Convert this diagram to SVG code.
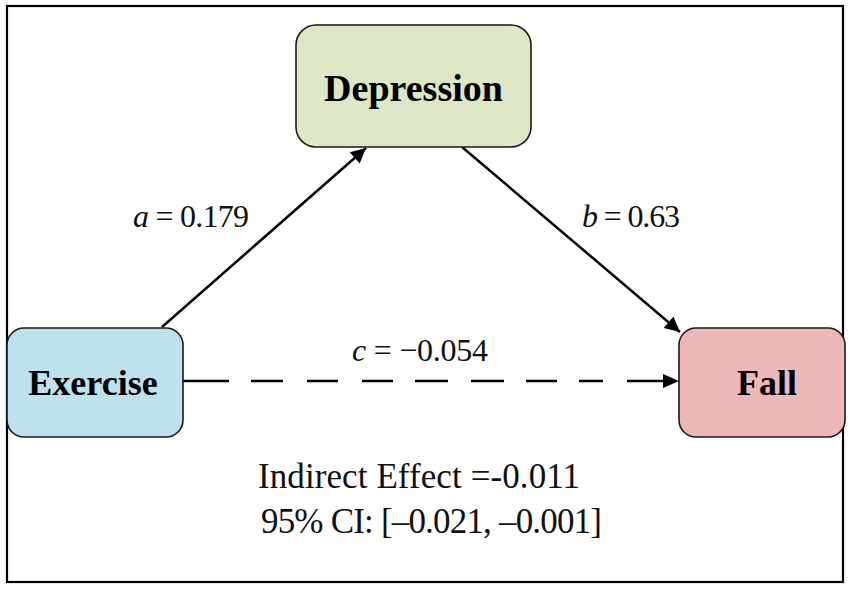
<svg xmlns="http://www.w3.org/2000/svg" width="851" height="589" viewBox="0 0 851 589">
<style>
.box{stroke:#1a1a1a;stroke-width:1.6}
.nl{font-family:"Liberation Serif","Times New Roman",serif;font-weight:bold;fill:#000;text-anchor:middle}
.lbl{font-family:"Liberation Serif","Times New Roman",serif;font-size:32px;fill:#111}
.note{font-family:"Liberation Serif","Times New Roman",serif;font-size:35px;fill:#111}
.edge{stroke:#000;stroke-width:2.5;fill:none}
</style>
<defs>
<marker id="ah" viewBox="0 0 10 10" refX="10" refY="5" markerWidth="6.5" markerHeight="6" markerUnits="strokeWidth" orient="auto">
<path d="M0,0 L10,5 L0,10 z" fill="#000"/>
</marker>
</defs>
<rect x="0" y="0" width="851" height="589" fill="#fff"/>
<rect x="7" y="6" width="836" height="576" fill="none" stroke="#000" stroke-width="2.2"/>
<g id="connectors">
<line class="edge" x1="162" y1="327" x2="366" y2="148" marker-end="url(#ah)"/>
<line class="edge" x1="462" y1="147" x2="680" y2="332" marker-end="url(#ah)"/>
<line class="edge" x1="183" y1="381" x2="664" y2="381" stroke-dasharray="46 22 32 24 31 24 31 22 33 23 33 22 31 22 24 24 200"/>
<path d="M663,374 L679,381 L663,388 z" fill="#000"/>
</g>
<g id="node-depression">
<rect class="box" x="296" y="25" width="235" height="122" rx="20" fill="#dde6c5"/>
<text class="nl" x="413.5" y="101" font-size="38">Depression</text>
</g>
<g id="node-exercise">
<rect class="box" x="7" y="328" width="176" height="109" rx="17" fill="#bde1ef"/>
<text class="nl" x="93" y="395" font-size="36">Exercise</text>
</g>
<g id="node-fall">
<rect class="box" x="679" y="328" width="166" height="109" rx="17" fill="#eeb8b8"/>
<text class="nl" x="767" y="395" font-size="36">Fall</text>
</g>
<g id="labels">
<text class="lbl" x="133" y="227" textLength="116" lengthAdjust="spacing"><tspan font-style="italic">a</tspan> = 0.179</text>
<text class="lbl" x="582" y="227" textLength="98" lengthAdjust="spacing"><tspan font-style="italic">b</tspan> = 0.63</text>
<text class="lbl" x="352" y="361" textLength="136" lengthAdjust="spacing"><tspan font-style="italic">c</tspan> = −0.054</text>
<text class="note" x="258" y="488" textLength="322" lengthAdjust="spacing">Indirect Effect =-0.011</text>
<text class="note" x="261" y="533" textLength="341" lengthAdjust="spacing">95% CI: [–0.021, –0.001]</text>
</g>
</svg>
